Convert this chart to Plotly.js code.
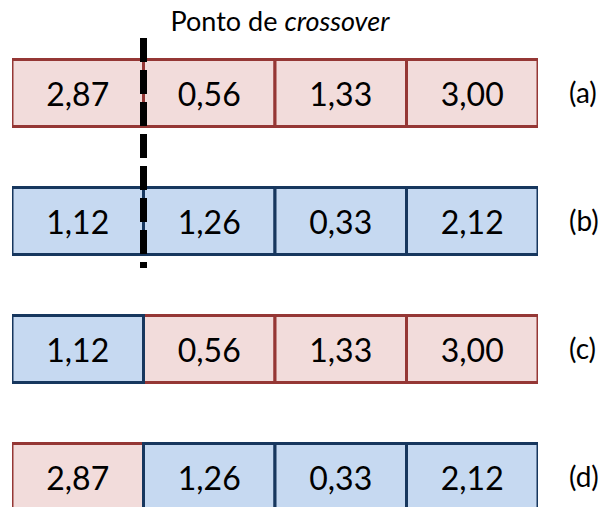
<!DOCTYPE html>
<html>
<head>
<meta charset="utf-8">
<script src="https://cdn.plot.ly/plotly-3.0.1.min.js"></script>
<style>html,body{margin:0;padding:0;background:#fff;}#chart{width:610px;height:507px;}</style>
</head>
<body>
<div id="chart"></div>
<script>
// ---- data ----
const rowLabels = ['(a)', '(b)', '(c)', '(d)'];
const parentA = [2.87, 0.56, 1.33, 3.00];
const parentB = [1.12, 1.26, 0.33, 2.12];
const childC = [1.12, 0.56, 1.33, 3.00];
const childD = [2.87, 1.26, 0.33, 2.12];
const sourceA = ['A', 'A', 'A', 'A'];
const sourceB = ['B', 'B', 'B', 'B'];
const sourceC = ['B', 'A', 'A', 'A'];
const sourceD = ['A', 'B', 'B', 'B'];
const crossoverPoint = 1;
const titleText = 'Ponto de <i>crossover</i>';

// ---- build ----
const rows = [
  {label: rowLabels[0], vals: parentA, src: sourceA},
  {label: rowLabels[1], vals: parentB, src: sourceB},
  {label: rowLabels[2], vals: childC, src: sourceC},
  {label: rowLabels[3], vals: childD, src: sourceD}
];
const fmt = v => v.toFixed(2).replace('.', ',');
const styles = {
  A: {fill: '#f2dcdb', line: '#953735'},
  B: {fill: '#c6d9f1', line: '#17375e'}
};
const BAR_W = 0.523;
function makeTrace(key) {
  const x = [], y = [], base = [], text = [];
  rows.forEach(r => {
    r.vals.forEach((v, i) => {
      if (r.src[i] === key) {
        x.push(1); base.push(i); y.push(r.label); text.push(fmt(v));
      }
    });
  });
  return {
    type: 'bar', orientation: 'h', x: x, y: y, base: base, text: text,
    width: BAR_W,
    textposition: 'inside', insidetextanchor: 'middle', textangle: 0,
    constraintext: 'none',
    textfont: {family: 'Lato, sans-serif', size: 32, color: '#000'},
    marker: {color: styles[key].fill, line: {color: styles[key].line, width: 3}},
    hoverinfo: 'skip', showlegend: false
  };
}
const traces = [makeTrace('A'), makeTrace('B')];

const rowA = rowLabels.indexOf('(a)');
const rowB = rowLabels.indexOf('(b)');

const layout = {
  width: 610, height: 507,
  margin: {l: 12, r: 72, t: 29, b: 0},
  paper_bgcolor: '#fff', plot_bgcolor: '#fff',
  barmode: 'overlay',
  title: {
    text: titleText, xref: 'container', yref: 'container',
    x: 0.459, y: 0.957, xanchor: 'center', yanchor: 'middle',
    font: {family: 'Lato, sans-serif', size: 27, color: '#000'}
  },
  xaxis: {range: [0, rows[0].vals.length], visible: false, fixedrange: true},
  yaxis: {
    type: 'category', categoryorder: 'array', categoryarray: rowLabels,
    range: [3.234, -0.5], side: 'right', showgrid: false, zeroline: false,
    showline: false, ticks: '', ticklabelstandoff: 30,
    tickfont: {family: 'Lato, sans-serif', size: 28, color: '#000'}
  },
  shapes: [{
    type: 'line', xref: 'x', yref: 'y',
    x0: crossoverPoint, x1: crossoverPoint,
    y0: rowA - 0.43, y1: rowB + 0.367,
    line: {color: '#000', width: 7, dash: '24px,8px'}
  }]
};
Plotly.newPlot('chart', traces, layout, {staticPlot: true, displayModeBar: false});
</script>
</body>
</html>
